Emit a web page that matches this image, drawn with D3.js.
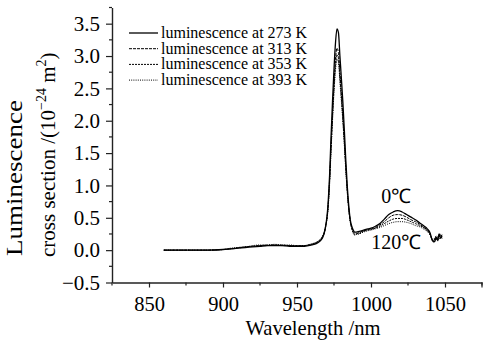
<!DOCTYPE html>
<html>
<head>
<meta charset="utf-8">
<script src="https://cdn.jsdelivr.net/npm/d3@7"></script>
<style>
  body { margin: 0; background: #fff; }
  svg, svg text, svg tspan { font-family: "Liberation Serif", "Times New Roman", serif !important; }
</style>
</head>
<body>
<svg id="chart" width="494" height="343"></svg>
<script>
// wavelength (nm) shared by every series
var wavelengths = [860, 870, 880, 890,
  900, 905, 910, 915, 920, 925, 930, 935, 940, 945, 950, 955, 960,
  963, 965, 967, 969,
  971, 972, 973, 974, 975, 976, 977, 978, 979, 980, 981, 982, 983, 984, 985, 986, 987, 988, 989, 990,
  992, 995, 998, 1000,
  1003, 1006, 1009, 1012, 1015, 1018, 1021, 1024, 1027, 1030, 1033, 1036,
  1038, 1040,
  1041, 1042, 1043, 1044, 1045, 1046, 1047, 1048];

var lum273 = [0, 0, 0, 0,
  0.01, 0.02, 0.03, 0.04, 0.05, 0.06, 0.07, 0.07, 0.07, 0.06, 0.06, 0.06, 0.08,
  0.10, 0.13, 0.18, 0.32,
  0.72, 1.15, 1.75, 2.30, 2.80, 3.20, 3.42, 3.36, 3.00, 2.65, 2.28, 1.85, 1.38, 0.98, 0.68, 0.47, 0.37, 0.31, 0.28, 0.28,
  0.29, 0.31, 0.33, 0.34,
  0.37, 0.41, 0.48, 0.55, 0.59, 0.61, 0.59, 0.55, 0.51, 0.47, 0.42, 0.37,
  0.33, 0.26,
  0.18, 0.14, 0.13, 0.19, 0.16, 0.25, 0.19, 0.22];

var lum313 = [0, 0, 0, 0,
  0.01, 0.02, 0.03, 0.05, 0.06, 0.07, 0.07, 0.08, 0.07, 0.07, 0.06, 0.07, 0.09,
  0.11, 0.14, 0.19, 0.32,
  0.68, 1.08, 1.62, 2.12, 2.58, 2.95, 3.12, 3.05, 2.75, 2.42, 2.08, 1.70, 1.28, 0.92, 0.64, 0.45, 0.35, 0.29, 0.26, 0.26,
  0.27, 0.30, 0.32, 0.33,
  0.35, 0.39, 0.44, 0.50, 0.54, 0.55, 0.54, 0.51, 0.47, 0.44, 0.40, 0.35,
  0.31, 0.25,
  0.17, 0.13, 0.15, 0.21, 0.14, 0.22, 0.18, 0.24];

var lum353 = [0, 0, 0, 0,
  0.01, 0.02, 0.04, 0.05, 0.06, 0.07, 0.08, 0.08, 0.08, 0.07, 0.07, 0.07, 0.09,
  0.12, 0.15, 0.20, 0.33,
  0.66, 1.04, 1.56, 2.05, 2.50, 2.85, 3.02, 2.96, 2.66, 2.35, 2.02, 1.65, 1.25, 0.90, 0.63, 0.44, 0.34, 0.27, 0.24, 0.25,
  0.26, 0.29, 0.31, 0.32,
  0.34, 0.37, 0.41, 0.45, 0.48, 0.49, 0.49, 0.47, 0.44, 0.41, 0.38, 0.34,
  0.30, 0.24,
  0.18, 0.12, 0.17, 0.22, 0.15, 0.20, 0.23, 0.18];

var lum393 = [0, 0, 0, 0,
  0.01, 0.03, 0.04, 0.05, 0.07, 0.08, 0.08, 0.09, 0.08, 0.08, 0.07, 0.07, 0.10,
  0.12, 0.15, 0.21, 0.34,
  0.64, 1.00, 1.52, 2.00, 2.44, 2.78, 2.95, 2.90, 2.60, 2.30, 1.98, 1.62, 1.22, 0.88, 0.62, 0.44, 0.33, 0.26, 0.23, 0.24,
  0.25, 0.28, 0.30, 0.31,
  0.33, 0.35, 0.38, 0.41, 0.43, 0.44, 0.44, 0.43, 0.41, 0.38, 0.36, 0.32,
  0.29, 0.23,
  0.19, 0.13, 0.19, 0.16, 0.21, 0.17, 0.25, 0.20];

var seriesNames = ["luminescence at 273 K", "luminescence at 313 K",
                   "luminescence at 353 K", "luminescence at 393 K"];
var seriesValues = [lum273, lum313, lum353, lum393];
var xTicks = [850, 900, 950, 1000, 1050];
var yTicks = [-0.5, 0, 0.5, 1, 1.5, 2, 2.5, 3, 3.5];

var SERIF = "'Liberation Serif', 'Times New Roman', serif";
var dashes = [null, "3,1", "2,1", "1,1.2"];
var widths = [1.3, 1, 1, 1];

var svg = d3.select("#chart");

var x = d3.scaleLinear().domain([825, 1075]).range([112, 482]);
var y = d3.scaleLinear().domain([-0.5, 3.75]).range([282.5, 7.5]);

// minor ticks
var xMinor = d3.range(825, 1076, 25).filter(function (v){ return xTicks.indexOf(v) < 0; });
var yMinor = d3.range(-0.25, 3.8, 0.5);

svg.append("g").selectAll("line").data(xMinor).enter().append("line")
  .attr("x1", function (d){ return x(d); })
  .attr("x2", function (d){ return x(d); })
  .attr("y1", y(-0.5)).attr("y2", y(-0.5) + 3)
  .attr("stroke", "#222").attr("stroke-width", 1.2);

svg.append("g").selectAll("line").data(yMinor).enter().append("line")
  .attr("y1", function (d){ return y(d); })
  .attr("y2", function (d){ return y(d); })
  .attr("x1", x(825)).attr("x2", x(825) - 3)
  .attr("stroke", "#222").attr("stroke-width", 1.2);

var xAxisG = svg.append("g")
  .attr("transform", "translate(0," + y(-0.5) + ")")
  .call(d3.axisBottom(x).tickValues(xTicks).tickSize(5).tickPadding(9).tickSizeOuter(0)
    .tickFormat(d3.format("d")));

var yAxisG = svg.append("g")
  .attr("transform", "translate(" + x(825) + ",0)")
  .call(d3.axisLeft(y).tickValues(yTicks).tickSize(6).tickPadding(6).tickSizeOuter(0)
    .tickFormat(function (d){ return d3.format(".1f")(d).replace("-", "\u2212"); }));

[xAxisG, yAxisG].forEach(function (g){
  g.attr("font-family", SERIF);
  g.select(".domain").attr("stroke", "#222").attr("stroke-width", 1.4);
  g.selectAll(".tick line").attr("stroke", "#222").attr("stroke-width", 1.2);
  g.selectAll(".tick text").style("font-family", SERIF).attr("fill", "#000");
});
xAxisG.selectAll(".tick text").style("font-size", "20.5px");
yAxisG.selectAll(".tick text").style("font-size", "21px");

// end tick at 1075
svg.append("line")
  .attr("x1", x(1075)).attr("x2", x(1075))
  .attr("y1", y(-0.5)).attr("y2", y(-0.5) + 5)
  .attr("stroke", "#222").attr("stroke-width", 1.2);

// curves
var line = d3.line()
  .x(function (d){ return x(d[0]); })
  .y(function (d){ return y(d[1]); })
  .curve(d3.curveMonotoneX);

seriesValues.slice().reverse().forEach(function (vals, j){
  var i = seriesValues.length - 1 - j;
  svg.append("path")
    .datum(wavelengths.map(function (w, k){ return [w, vals[k]]; }))
    .attr("d", line)
    .attr("fill", "none")
    .attr("stroke", "#000")
    .attr("stroke-width", widths[i])
    .attr("stroke-dasharray", dashes[i]);
});

// legend
var legend = svg.append("g").selectAll("g").data(seriesNames).enter().append("g")
  .attr("transform", function (d, i){ return "translate(129," + (33 + i * 15.7) + ")"; });

legend.append("line")
  .attr("x1", 0).attr("x2", 29)
  .attr("stroke", "#000")
  .attr("stroke-width", function (d, i){ return widths[i]; })
  .attr("stroke-dasharray", function (d, i){ return dashes[i]; });

legend.append("text")
  .attr("x", 32).attr("y", 5)
  .style("font-family", SERIF).style("font-size", "16px")
  .text(function (d){ return d; });

// annotations
svg.append("text")
  .attr("x", x(1017)).attr("y", y(0.73))
  .attr("text-anchor", "middle")
  .style("font-family", SERIF).style("font-size", "20px")
  .text("0\u2103");

svg.append("text")
  .attr("x", x(1017)).attr("y", y(0.02))
  .attr("text-anchor", "middle")
  .style("font-family", SERIF).style("font-size", "20px")
  .text("120\u2103");

// axis titles
svg.append("text")
  .attr("x", 313).attr("y", 335)
  .attr("text-anchor", "middle")
  .style("font-family", SERIF).style("font-size", "20.6px")
  .text("Wavelength /nm");

svg.append("text")
  .attr("transform", "translate(22,256) rotate(-90) scale(1,0.85)")
  .style("font-family", SERIF).style("font-size", "27px")
  .text("Luminescence");

var t2 = svg.append("text")
  .attr("transform", "translate(55,257) rotate(-90)")
  .style("font-family", SERIF).style("font-size", "21px");
t2.append("tspan").text("cross section /(10");
t2.append("tspan").style("font-size", "14px").attr("dy", -9).text("\u221224");
t2.append("tspan").attr("dy", 9).text(" m");
t2.append("tspan").style("font-size", "14px").attr("dy", -9).text("2");
t2.append("tspan").attr("dy", 9).text(")");
</script>
</body>
</html>
